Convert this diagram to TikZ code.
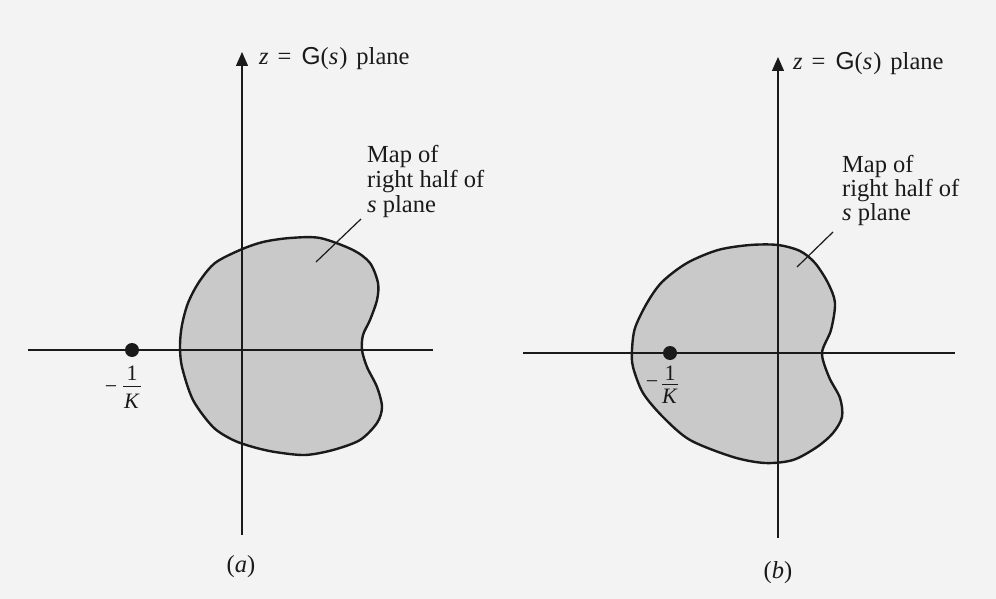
\documentclass[tikz,border=0pt]{standalone}
\usepackage{fontspec}
\setmainfont{Liberation Serif}
\newfontfamily\gfont{Liberation Sans}
\usetikzlibrary{arrows.meta}
\definecolor{bgcol}{HTML}{F3F3F3}
\definecolor{ink}{HTML}{1A1A1A}
\definecolor{blobfill}{HTML}{C9C9C9}
\begin{document}
\begin{tikzpicture}[x=1pt,y=-1pt,
  axis/.style={line width=1.2pt, draw=ink},
  upaxis/.style={axis, -{Triangle[length=14pt,width=12pt]}},
  blob/.style={line width=2.4pt, draw=ink, fill=blobfill},
  ptr/.style={line width=1.2pt, draw=ink},
  lbl/.style={font=\fontsize{24.5}{25}\selectfont, inner sep=0pt, anchor=base west, text=ink},
  capstyle/.style={font=\fontsize{24.5}{25}\selectfont, inner sep=0pt, anchor=base, text=ink},
  frac/.style={font=\fontsize{22}{22}\selectfont, inner sep=0pt, text=ink},
  pole/.style={circle, fill=ink, inner sep=0pt, minimum size=14pt}]
\fill[bgcol] (0,0) rectangle (996,599);
\useasboundingbox (0,0) rectangle (996,599);

% ---------- panel (a) ----------
\draw[blob] plot[smooth cycle] coordinates {
 (290,238) (320,238) (353,250) (370,263) (378,283) (377,300) (370,320)
 (363,335) (362,350) (367,367) (377,387) (382,407) (377,423) (360,440)
 (333,450) (305,455) (275,452) (253,447) (233,440) (213,427) (193,400)
 (182,367) (180,345) (182,325) (188,303) (199,282) (215,263) (240,250) (263,242)};
\coordinate (aL) at (28,350);
\coordinate (aR) at (433,350);
\coordinate (aB) at (242,535);
\coordinate (aT) at (242,52);
\draw[axis] (aL) -- (aR);
\draw[upaxis] (aB) -- (aT);
\node[lbl] (atitle) at (259,65) {\textit{z}\hspace{9pt}=\hspace{10pt}{\gfont G}(\textit{s}\hspace{1pt})\hspace{9pt}plane};
\node[lbl] (amap1) at (367,162) {Map of};
\node[lbl] (amap2) at (367,187) {right half of};
\node[lbl] (amap3) at (367,212) {\textit{s} plane};
\coordinate (aP1) at (361,219);
\coordinate (aP2) at (316,262);
\draw[ptr] (aP1) -- (aP2);
\node[pole] (apole) at (132,350) {};
\node[frac, anchor=base] (aone) at (132,380) {1};
\coordinate (abarL) at (123,386);
\coordinate (abarR) at (141,386);
\draw[line width=1pt, draw=ink] (abarL) -- (abarR);
\node[frac, anchor=base] (aK) at (132,408) {\textit{K}};
\node[frac] (aminus) at (111,390) {\textminus};
\node[capstyle] (acap) at (241,572) {(\textit{a})};

% ---------- panel (b) ----------
\draw[blob] plot[smooth cycle] coordinates {
 (750,245) (778,245) (800,251) (815,263) (828,283) (835,303) (831,330)
 (822,353) (829,377) (840,398) (842,417) (833,433) (817,447) (793,460)
 (765,463) (733,457) (690,440) (663,417) (643,393) (633,367) (632,350)
 (635,328) (647,303) (662,282) (687,263) (718,250)};
\coordinate (bL) at (523,353);
\coordinate (bR) at (955,353);
\coordinate (bB) at (778,538);
\coordinate (bT) at (778,57);
\draw[axis] (bL) -- (bR);
\draw[upaxis] (bB) -- (bT);
\node[lbl] (btitle) at (793,70) {\textit{z}\hspace{9pt}=\hspace{10pt}{\gfont G}(\textit{s}\hspace{1pt})\hspace{9pt}plane};
\node[lbl] (bmap1) at (842,172) {Map of};
\node[lbl] (bmap2) at (842,196) {right half of};
\node[lbl] (bmap3) at (842,220) {\textit{s} plane};
\coordinate (bP1) at (833,232);
\coordinate (bP2) at (797,267);
\draw[ptr] (bP1) -- (bP2);
\node[pole] (bpole) at (670,353) {};
\node[frac, anchor=base] (bone) at (670,380) {1};
\coordinate (bbarL) at (662,384);
\coordinate (bbarR) at (678,384);
\draw[line width=1pt, draw=ink] (bbarL) -- (bbarR);
\node[frac, anchor=base] (bK) at (670,403) {\textit{K}};
\node[frac] (bminus) at (652,385) {\textminus};
\node[capstyle] (bcap) at (778,578) {(\textit{b})};
\end{tikzpicture}
\end{document}
